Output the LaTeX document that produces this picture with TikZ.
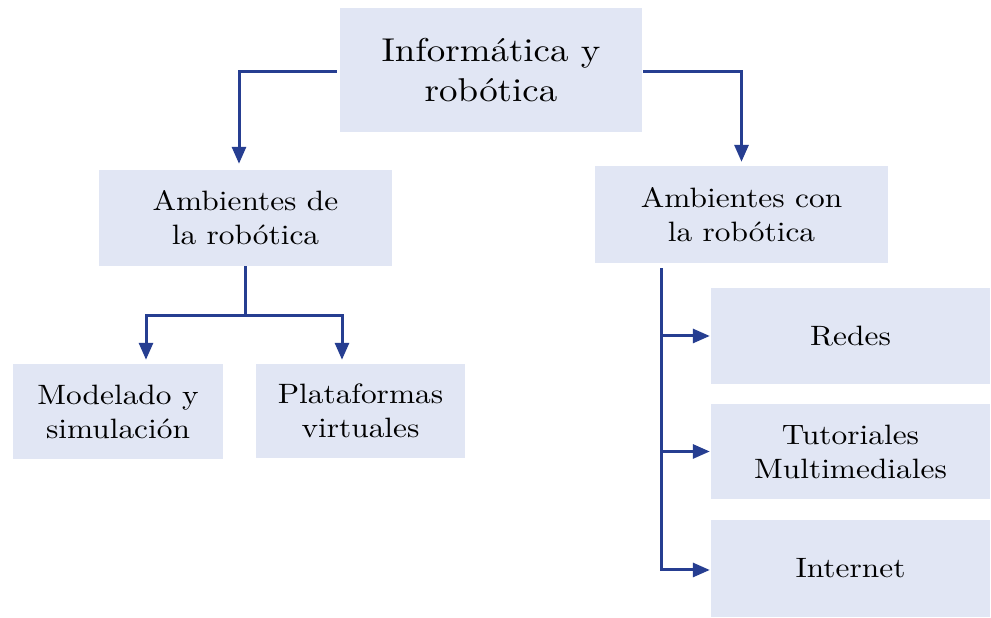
\documentclass[tikz,border=0pt]{standalone}
\usepackage{fontspec}
\setmainfont{lmroman10-regular.otf}[FakeStretch=1.12]
\usepackage{tikz}
\usepackage{xcolor}
\usetikzlibrary{positioning,arrows.meta}

\definecolor{lineColor}{RGB}{38,62,145}
\definecolor{boxColor}{RGB}{225,230,244}

\begin{document}
\begin{tikzpicture}[x=1pt,y=1pt,
  box/.style={fill=boxColor,draw=none,align=center,inner sep=0pt,
    font=\fontsize{28}{34}\selectfont},
  conn/.style={draw=lineColor,line width=3pt},
  arr/.style={conn,-{Triangle[length=17pt,width=14pt]}}]
\path[use as bounding box,fill=white] (0,0) rectangle (991,618);

% boxes
\node[box,minimum width=302,minimum height=124,font=\fontsize{33}{40}\selectfont]
  (info) at (491,548) {Informática y\\robótica};
\node[box,minimum width=293,minimum height=96] (ambde) at (245.5,400) {Ambientes de\\la robótica};
\node[box,minimum width=293,minimum height=97] (ambcon) at (741.5,403.5) {Ambientes con\\la robótica};
\node[box,minimum width=210,minimum height=95] (model) at (118,206.5) {Modelado y\\simulación};
\node[box,minimum width=209,minimum height=94] (plat) at (360.5,207) {Plataformas\\virtuales};
\node[box,minimum width=279,minimum height=96] (redes) at (850.5,282) {Redes};
\node[box,minimum width=279,minimum height=95] (tuto) at (850.5,166.5) {Tutoriales\\Multimediales};
\node[box,minimum width=279,minimum height=97] (inter) at (850.5,49.5) {Internet};

% top level
\draw[arr,shorten <=3pt,shorten >=6pt] ([yshift=-2pt]info.west) -| ([xshift=-6.5pt]ambde.north);
\draw[arr,shorten <=1pt,shorten >=4pt] ([yshift=-2pt]info.east) -| (ambcon.north);

% left branch
\draw[conn] (ambde.south) -- ++(0,-49) coordinate (split);
\draw[arr,shorten >=4pt] (split) -| ([xshift=28pt]model.north);
\draw[arr,shorten >=4pt] (split) -| ([xshift=-18.5pt]plat.north);

% right branch
\coordinate (trunk) at ([xshift=-80.5pt]ambcon.south);
\draw[arr,shorten <=5pt,shorten >=1pt] (trunk) |- ([yshift=-1.5pt]inter.west);
\draw[arr,shorten >=1pt] (trunk |- redes.west) -- (redes.west);
\draw[arr,shorten >=1pt] (trunk |- tuto.west) -- (tuto.west);
\end{tikzpicture}
\end{document}
